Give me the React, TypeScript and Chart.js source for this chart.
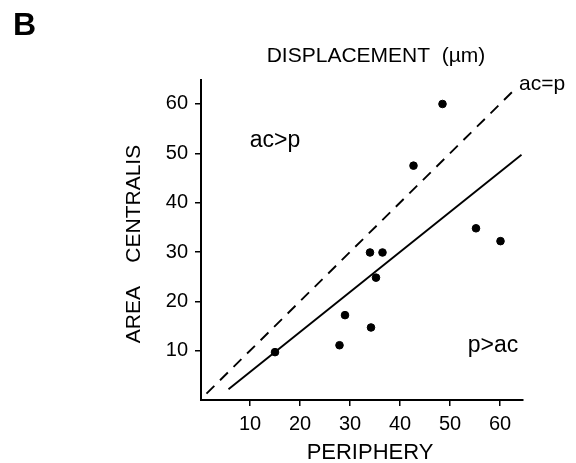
import React, { useEffect, useRef } from "react";
import { Chart, registerables } from "chart.js";

Chart.register(...registerables);

// Data (periphery vs area centralis displacement, µm)
const peripheryValues = [15, 27.9, 29, 34.2, 34, 36.5, 35.2, 42.7, 48.5, 55.2, 60.1];
const areaCentralisValues = [9.7, 11.1, 17.2, 14.7, 29.9, 29.9, 24.8, 47.5, 60, 34.8, 32.2];

// Identity line ac = p (dashed)
const identityX = [1.3, 63];
const identityY = [1.3, 63];

// Regression line (solid)
const fitX = [5.7, 64.3];
const fitY = [2.2, 49.7];

const xTickValues = [10, 20, 30, 40, 50, 60];
const yTickValues = [10, 20, 30, 40, 50, 60];

const regionLabels = ["ac>p", "p>ac", "ac=p"];
const regionLabelX = [15, 58.6, 63.8];
const regionLabelY = [51.3, 9.7, 62.8];
const regionLabelAlign = ["center", "center", "left"];
const regionLabelSize = [23, 23, 21];

const panelLetter = "B";
const chartTitle = "DISPLACEMENT  (\u00b5m)";
const xTitle = "PERIPHERY";
const yTitle = "AREA    CENTRALIS";

const FONT = "'Liberation Sans', Arial, Helvetica, sans-serif";

const textPlugin = {
  id: "figureText",
  afterDraw(chart: any) {
    const { ctx, chartArea, scales } = chart;
    const xs = scales.x;
    const ys = scales.y;
    ctx.save();
    ctx.fillStyle = "#000";
    ctx.textBaseline = "alphabetic";
    // region labels in data coordinates
    regionLabels.forEach((t, i) => {
      ctx.font = `${regionLabelSize[i]}px ${FONT}`;
      ctx.textAlign = regionLabelAlign[i];
      ctx.fillText(t, xs.getPixelForValue(regionLabelX[i]), ys.getPixelForValue(regionLabelY[i]));
    });
    // chart title
    ctx.font = `21px ${FONT}`;
    ctx.textAlign = "center";
    ctx.fillText(chartTitle, chartArea.left + 175, chartArea.top - 18);
    // x axis title
    ctx.font = `22px ${FONT}`;
    ctx.fillText(xTitle, chartArea.left + 169, chartArea.bottom + 59);
    // panel letter
    ctx.font = `bold 32px ${FONT}`;
    ctx.textAlign = "left";
    ctx.fillText(panelLetter, 13, 35);
    // y axis title
    ctx.font = `21px ${FONT}`;
    ctx.textAlign = "center";
    ctx.translate(chartArea.left - 61, chartArea.top + 164);
    ctx.rotate(-Math.PI / 2);
    ctx.fillText(yTitle, 0, 0);
    ctx.restore();
  },
};

export default function App() {
  const ref = useRef<HTMLCanvasElement | null>(null);

  useEffect(() => {
    if (!ref.current) return;
    const scatterData = peripheryValues.map((x, i) => ({ x, y: areaCentralisValues[i] }));
    const identityData = identityX.map((x, i) => ({ x, y: identityY[i] }));
    const fitData = fitX.map((x, i) => ({ x, y: fitY[i] }));

    const chart = new Chart(ref.current, {
      type: "scatter",
      data: {
        datasets: [
          {
            label: "cells",
            data: scatterData,
            backgroundColor: "#000",
            borderColor: "#000",
            pointRadius: 3.8,
            pointHoverRadius: 3.8,
            showLine: false,
          },
          {
            label: "ac=p",
            data: identityData,
            showLine: true,
            borderColor: "#000",
            borderWidth: 1.9,
            borderDash: [11, 8],
            pointRadius: 0,
            fill: false,
          },
          {
            label: "fit",
            data: fitData,
            showLine: true,
            borderColor: "#000",
            borderWidth: 1.9,
            pointRadius: 0,
            fill: false,
          },
        ],
      },
      options: {
        animation: false,
        responsive: false,
        devicePixelRatio: 1,
        layout: { padding: { left: 0, right: 53, top: 80, bottom: 0 } },
        plugins: {
          legend: { display: false },
          tooltip: { enabled: false },
          title: { display: false },
        },
        scales: {
          x: {
            type: "linear",
            min: 0.2,
            max: 64.6,
            afterFit: (s: any) => {
              s.height = 63;
            },
            afterBuildTicks: (s: any) => {
              s.ticks = xTickValues.map((v) => ({ value: v }));
            },
            grid: {
              drawOnChartArea: false,
              drawTicks: true,
              tickLength: 6,
              color: "#000",
              lineWidth: 1.5,
            },
            border: { display: true, color: "#000", width: 2 },
            ticks: {
              color: "#000",
              padding: 6,
              maxRotation: 0,
              font: { family: FONT, size: 20 },
            },
            title: { display: false },
          },
          y: {
            type: "linear",
            min: 0,
            max: 64.86,
            afterFit: (s: any) => {
              s.width = 201;
            },
            afterBuildTicks: (s: any) => {
              s.ticks = yTickValues.map((v) => ({ value: v }));
            },
            grid: {
              drawOnChartArea: false,
              drawTicks: true,
              tickLength: 6,
              color: "#000",
              lineWidth: 1.5,
            },
            border: { display: true, color: "#000", width: 2 },
            ticks: {
              color: "#000",
              padding: 7,
              font: { family: FONT, size: 20 },
            },
            title: { display: false },
          },
        },
      },
      plugins: [textPlugin],
    });
    return () => chart.destroy();
  }, []);

  return (
    <div style={{ position: "absolute", left: 0, top: 0, width: 576, height: 463, background: "#fff" }}>
      <canvas ref={ref} width={576} height={463} />
    </div>
  );
}
